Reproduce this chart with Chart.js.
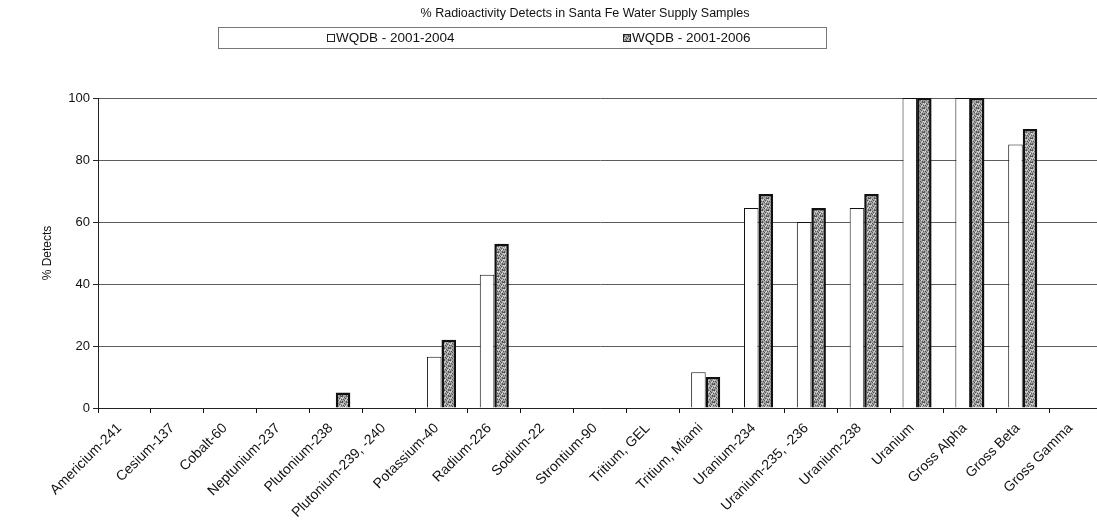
<!DOCTYPE html>
<html>
<head>
<meta charset="utf-8">
<script src="https://cdn.jsdelivr.net/npm/chart.js@4/dist/chart.umd.min.js"></script>
<style>
  html, body { margin: 0; padding: 0; background: #fff; overflow: hidden; }
  #wrap { position: relative; width: 1102px; height: 529px; }
</style>
</head>
<body>
<div id="wrap"><canvas id="chart"></canvas></div>
<script>
const categories = [
  "Americium-241", "Cesium-137", "Cobalt-60", "Neptunium-237", "Plutonium-238",
  "Plutonium-239, -240", "Potassium-40", "Radium-226", "Sodium-22", "Strontium-90",
  "Tritium, GEL", "Tritium, Miami", "Uranium-234", "Uranium-235, -236", "Uranium-238",
  "Uranium", "Gross Alpha", "Gross Beta", "Gross Gamma"
];
const detects2004 = [0, 0, 0, 0, 0, 0, 16.5, 43, 0, 0, 0, 11.5, 64.5, 60, 64.5, 100, 100, 85, 0];
const detects2006 = [0, 0, 0, 0, 5, 0, 22, 53, 0, 0, 0, 10, 69, 64.5, 69, 100, 100, 90, 0];
const seriesNames = ["WQDB - 2001-2004", "WQDB - 2001-2006"];
const yTicks = [0, 20, 40, 60, 80, 100];
const chartTitle = "% Radioactivity Detects in Santa Fe Water Supply Samples";

const FONT = "'Liberation Sans', Arial, sans-serif";

// speckled grey fill for the second series
const makeSpeckle = () => {
  const c = document.createElement("canvas");
  c.width = 6;
  c.height = 6;
  const g = c.getContext("2d");
  g.fillStyle = "#a2a2a2";
  g.fillRect(0, 0, 6, 6);
  const dark = [[0,0],[2,1],[4,0],[1,3],[3,2],[5,3],[0,5],[2,4],[4,5],[5,0]];
  const light = [[1,1],[5,1],[3,4],[0,2],[4,3]];
  g.fillStyle = "#555";
  dark.forEach(([x, y]) => g.fillRect(x, y, 1, 1));
  g.fillStyle = "#dcdcdc";
  light.forEach(([x, y]) => g.fillRect(x, y, 1, 1));
  return g.createPattern(c, "repeat");
};
const speckle = makeSpeckle();

// title plus the framed legend strip above the plot
const header = {
  id: "header",
  afterDraw(chart) {
    const ctx = chart.ctx;
    ctx.save();
    ctx.fillStyle = "#111";
    ctx.textAlign = "center";
    ctx.textBaseline = "middle";
    ctx.font = `12.5px ${FONT}`;
    ctx.fillText(chartTitle, 585, 14);

    ctx.strokeStyle = "#777";
    ctx.lineWidth = 1;
    ctx.strokeRect(218.5, 27.5, 608, 21);
    ctx.font = `13.5px ${FONT}`;
    ctx.textAlign = "left";
    const items = [
      { x: 327, fill: "#fff" },
      { x: 623, fill: speckle },
    ];
    items.forEach((it, i) => {
      ctx.fillStyle = it.fill;
      ctx.fillRect(it.x, 34, 8, 8);
      ctx.strokeStyle = "#222";
      ctx.strokeRect(it.x + 0.5, 34.5, 7, 7);
      ctx.fillStyle = "#111";
      ctx.fillText(seriesNames[i], it.x + 9, 38.5);
    });
    ctx.restore();
  },
};

new Chart("chart", {
  type: "bar",
  data: {
    labels: categories,
    datasets: [
      {
        label: seriesNames[0],
        data: detects2004,
        backgroundColor: "#fff",
        borderColor: "#111",
        borderWidth: 1,
        barPercentage: 1,
        categoryPercentage: 0.55,
      },
      {
        label: seriesNames[1],
        data: detects2006,
        backgroundColor: speckle,
        borderColor: "#111",
        borderWidth: 2.5,
        barPercentage: 1,
        categoryPercentage: 0.55,
      },
    ],
  },
  options: {
    responsive: true,
    maintainAspectRatio: false,
    animation: false,
    layout: { padding: { left: 40, right: 0, top: 98, bottom: 0 } },
    scales: {
      x: {
        grid: {
          display: true,
          drawOnChartArea: false,
          color: "#111",
          tickLength: 5,
        },
        border: { color: "#222", width: 1 },
        ticks: {
          color: "#111",
          minRotation: 45,
          maxRotation: 45,
          padding: 7,
          labelOffset: -5,
          font: { family: FONT, size: 14 },
        },
        afterFit(scale) {
          scale.height = 121;
        },
      },
      y: {
        min: 0,
        max: 100,
        afterBuildTicks(scale) {
          scale.ticks = yTicks.map((v) => ({ value: v }));
        },
        grid: {
          color: "#5c5c5c",
          lineWidth: 1,
          tickLength: 5,
          tickColor: "#222",
        },
        border: { color: "#222", width: 1 },
        ticks: {
          color: "#111",
          padding: 3,
          font: { family: FONT, size: 13 },
        },
        title: {
          display: true,
          text: "% Detects",
          color: "#111",
          padding: 0,
          font: { family: FONT, size: 12 },
        },
        afterFit(scale) {
          scale.width = 58;
        },
      },
    },
    plugins: {
      legend: { display: false },
      tooltip: { enabled: false },
      title: { display: false },
    },
  },
  plugins: [header],
});
</script>
</body>
</html>
